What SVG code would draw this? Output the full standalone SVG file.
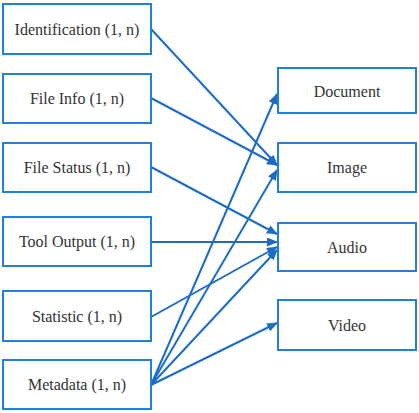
<svg xmlns="http://www.w3.org/2000/svg" width="419" height="413" viewBox="0 0 419 413">
<style>
.box{fill:#fff;stroke:#1f7fdc;stroke-width:2}
text{font-family:'Liberation Serif','Times New Roman',serif;font-size:16px;fill:#333;text-anchor:middle}
.edge{stroke:#1a6cc6;stroke-width:2;fill:none;marker-end:url(#ah)}
</style>
<defs>
<marker id="ah" markerWidth="11" markerHeight="9" refX="10" refY="4.5" orient="auto" markerUnits="userSpaceOnUse">
<path d="M0,0 L11,4.5 L0,9 z" fill="#1a6cc6"/>
</marker>
</defs>
<rect width="419" height="413" fill="#fff"/>
<g id="connectors">
<line class="edge" x1="151" y1="29" x2="277" y2="165"/>
<line class="edge" x1="151" y1="98" x2="277" y2="165"/>
<line class="edge" x1="151" y1="167" x2="277" y2="234"/>
<line class="edge" x1="151" y1="242" x2="277" y2="242"/>
<line class="edge" x1="151" y1="317" x2="277" y2="247"/>
<line class="edge" x1="151" y1="385" x2="277" y2="94"/>
<line class="edge" x1="151" y1="385" x2="277" y2="170"/>
<line class="edge" x1="151" y1="385" x2="277" y2="250"/>
<line class="edge" x1="151" y1="385" x2="277" y2="323"/>
</g>
<g id="identification"><rect class="box" x="3" y="4" width="148" height="50"/><text x="77" y="34.5">Identification (1, n)</text></g>
<g id="fileinfo"><rect class="box" x="3" y="74" width="148" height="49"/><text x="77" y="104">File Info (1, n)</text></g>
<g id="filestatus"><rect class="box" x="3" y="143" width="148" height="49"/><text x="77" y="173">File Status (1, n)</text></g>
<g id="tooloutput"><rect class="box" x="3" y="217" width="148" height="49"/><text x="77" y="247">Tool Output (1, n)</text></g>
<g id="statistic"><rect class="box" x="3" y="291" width="148" height="50"/><text x="77" y="321.5">Statistic (1, n)</text></g>
<g id="metadata"><rect class="box" x="3" y="360" width="148" height="49"/><text x="77" y="390">Metadata (1, n)</text></g>
<g id="document"><rect class="box" x="278" y="68" width="138" height="45"/><text x="347" y="96.5">Document</text></g>
<g id="image"><rect class="box" x="278" y="143" width="138" height="49"/><text x="347" y="173">Image</text></g>
<g id="audio"><rect class="box" x="278" y="223" width="138" height="48"/><text x="347" y="252.5">Audio</text></g>
<g id="video"><rect class="box" x="278" y="300" width="138" height="50"/><text x="347" y="330.5">Video</text></g>
</svg>
